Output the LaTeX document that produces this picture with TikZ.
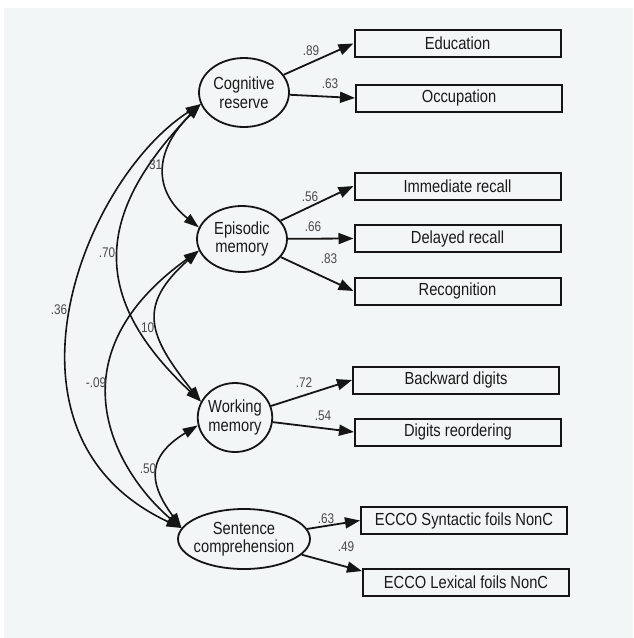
\documentclass[tikz,border=0pt]{standalone}
\usepackage{fontspec}
\setmainfont{Liberation Sans}[FakeStretch=0.84]
\usetikzlibrary{arrows.meta,shapes.geometric}
\definecolor{bgc}{HTML}{F3F6F6}
\definecolor{linec}{HTML}{151515}
\definecolor{textc}{HTML}{1A1A1A}
\definecolor{labc}{HTML}{4A4A4A}
\begin{document}
\begin{tikzpicture}[x=1pt,y=-1pt,
  latent/.style={draw=linec, line width=1.8pt, ellipse, inner sep=0pt},
  lattext/.style={align=center, inner sep=0pt, font=\fontsize{17.5}{18.5}\selectfont, text=textc},
  obs/.style={draw=linec, line width=2pt, rectangle, minimum width=206pt, minimum height=27pt, inner sep=0pt, font=\fontsize{17.5}{18.5}\selectfont, text=textc},
  ind/.style={draw=linec, line width=1.8pt, -{Triangle[length=15pt,width=11pt]}},
  cov/.style={draw=linec, line width=1.6pt, {Triangle[length=15pt,width=10pt]}-{Triangle[length=15pt,width=10pt]}},
  lab/.style={font=\fontsize{14}{14}\selectfont, text=labc, inner sep=0pt}]
\useasboundingbox (0,0) rectangle (633,638);
\fill[bgc] (4,8) rectangle (633,638);

% latent variables
\node[latent, minimum width=90pt, minimum height=69pt] (cr) at (244,92.5) {};
\node[lattext] (crt) at (cr) {Cognitive\\reserve};
\node[latent, minimum width=90pt, minimum height=66pt] (em) at (242,239) {};
\node[lattext] (emt) at (em) {Episodic\\memory};
\node[latent, minimum width=74.5pt, minimum height=69pt] (wm) at (235,417.5) {};
\node[lattext] (wmt) at (wm) {Working\\memory};
\node[latent, minimum width=132pt, minimum height=60pt] (sc) at (244,539) {};
\node[lattext] (sct) at (sc) {Sentence\\comprehension};

% observed variables
\node[obs] (edu) at (457.5,43.5) {Education};
\node[obs] (occ) at (459,98) {Occupation};
\node[obs] (imm) at (457.5,186) {Immediate recall};
\node[obs] (del) at (457.5,238.5) {Delayed recall};
\node[obs] (rec) at (457.5,291) {Recognition};
\node[obs] (bwd) at (456,380) {Backward digits};
\node[obs] (dro) at (458,432) {Digits reordering};
\node[obs] (syn) at (464,520.5) {ECCO Syntactic foils NonC};
\node[obs] (lex) at (466,582) {ECCO Lexical foils NonC};

% loadings
\draw[ind] (cr) -- (edu.west);
\draw[ind] (cr) -- (occ.west);
\draw[ind] (em) -- (imm.west);
\draw[ind] (em) -- (del.west);
\draw[ind] (em) -- (rec.west);
\draw[ind] (wm) -- (bwd.west);
\draw[ind] (wm) -- (dro.west);
\draw[ind] (sc) -- (syn.west);
\draw[ind] (sc) -- (lex.174);

% covariances
\draw[cov] (cr.195) .. controls (82,180.5) and (-17,435.6) .. (sc.170);
\draw[cov] (cr.195) .. controls (87.5,220.8) and (96.2,303.5) .. (wm.155);
\draw[cov] (cr.195) .. controls (153.1,151.9) and (153.3,190.8) .. (em.165);
\draw[cov] (em.195) .. controls (136.7,305.7) and (148.1,335.5) .. (wm.155);
\draw[cov] (em.195) .. controls (44.2,361.7) and (121.7,477.6) .. (sc.170);
\draw[cov] (wm.192) .. controls (140.9,460) and (153.4,489.3) .. (sc.170);

% labels
\node[lab] (l1) at (311,51) {.89};
\node[lab] (l2) at (330,84) {.63};
\node[lab] (l3) at (310,197) {.56};
\node[lab] (l4) at (313,227) {.66};
\node[lab] (l5) at (329,259) {.83};
\node[lab] (l6) at (304,383) {.72};
\node[lab] (l7) at (323,416) {.54};
\node[lab] (l8) at (326,519) {.63};
\node[lab] (l9) at (346,547) {.49};
\node[lab] (l10) at (154,165) {.31};
\node[lab] (l11) at (107,253) {.70};
\node[lab] (l12) at (59,310) {.36};
\node[lab] (l13) at (146,328) {.10};
\node[lab] (l14) at (96,383) {-.09};
\node[lab] (l15) at (148,469) {.50};
\end{tikzpicture}
\end{document}
